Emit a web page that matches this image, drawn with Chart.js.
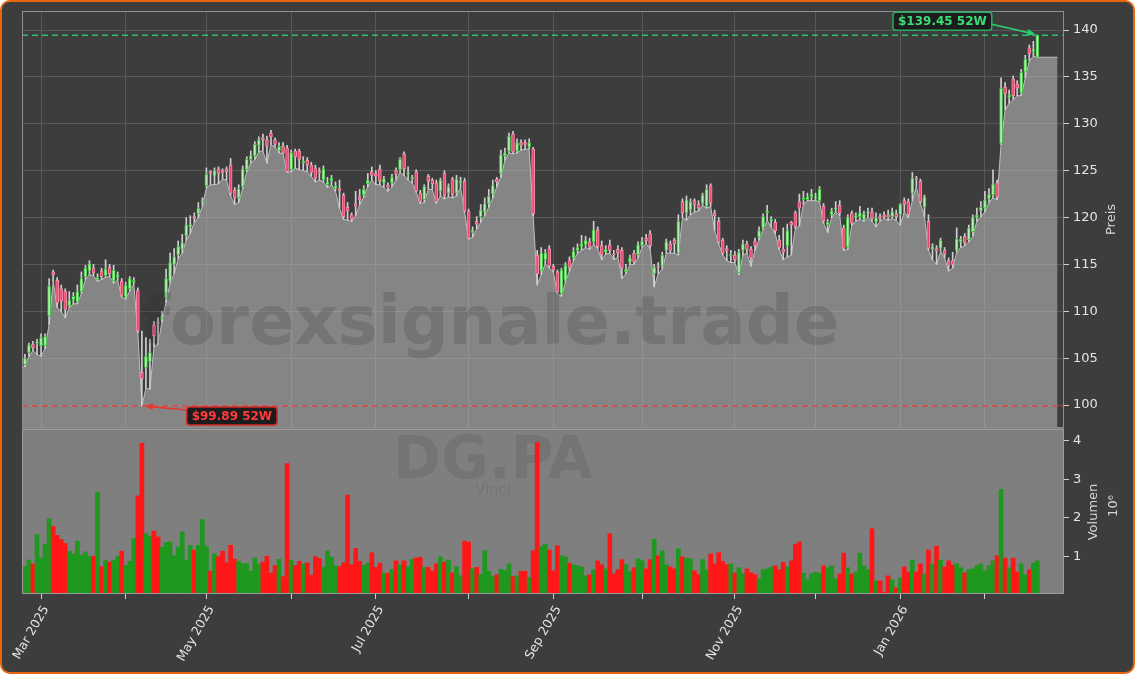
<!DOCTYPE html>
<html>
<head>
<meta charset="utf-8">
<script src="https://cdn.jsdelivr.net/npm/chart.js@4.4.1/dist/chart.umd.min.js"></script>
<style>
  html, body { margin: 0; padding: 0; background: #ffffff; }
  #wrap { width: 1135px; height: 674px; }
</style>
</head>
<body>
<div id="wrap"><canvas id="chart" width="1135" height="674"></canvas></div>
<script>
// Handelstage: ab erstem Tag, ohne Wochenenden und Börsenfeiertage
var firstDay = '2025-02-25';
var holidays = ['2025-04-18', '2025-04-21', '2025-05-01', '2025-12-25', '2025-12-26', '2026-01-01'];
var monthNames = ['Jan', 'Feb', 'Mar', 'Apr', 'May', 'Jun', 'Jul', 'Aug', 'Sep', 'Oct', 'Nov', 'Dec'];
var priceTicks = [100, 105, 110, 115, 120, 125, 130, 135, 140];
var volumeTicks = [1, 2, 3, 4];

var opens = [
  104.3,105.6,106.5,106.6,106.3,106.3,109.5,114.2,113.3,112.4,
  112.1,110.6,111.2,111.0,112.1,113.7,114.3,114.6,113.4,114.3,
  113.8,114.7,113.2,113.6,113.2,111.5,112.4,113.1,112.2,103.5,
  104.0,104.6,108.5,108.8,109.2,111.4,113.2,115.0,116.0,116.6,
  118.0,119.0,120.1,120.4,121.6,123.4,124.9,124.4,125.2,125.0,
  125.2,125.6,122.9,122.1,123.3,125.1,126.2,126.6,127.7,128.5,
  128.3,129.0,128.3,127.1,127.6,127.4,125.1,127.1,127.1,125.8,
  126.1,125.6,125.3,124.9,124.0,123.5,123.9,123.1,123.1,122.4,
  121.1,120.3,121.5,122.2,122.4,123.6,124.9,124.7,125.2,123.7,
  123.5,123.7,125.0,125.1,126.8,124.6,124.1,124.9,122.6,121.9,
  124.4,124.0,123.7,122.8,124.75,122.6,124.1,122.6,123.7,123.9,
  120.7,118.4,119.6,120.1,120.6,121.5,122.5,124.1,124.7,126.6,
  127.1,128.9,127.1,128.0,128.0,127.5,127.3,116.0,114.3,115.5,
  116.7,114.8,114.2,111.9,113.3,115.5,115.7,116.5,116.9,117.1,
  117.4,117.4,118.7,117.0,116.3,117.1,116.1,116.6,116.5,114.2,
  115.2,116.2,116.0,117.0,117.8,118.3,114.05,114.8,114.8,116.5,
  117.2,117.6,116.2,121.7,120.5,120.8,121.8,121.4,121.5,121.2,
  123.4,120.5,119.6,117.6,116.7,115.9,116.0,114.1,116.5,117.2,
  116.6,117.5,117.9,118.9,120.5,119.6,119.5,117.6,116.6,117.0,
  119.5,120.5,121.7,121.9,121.9,122.2,122.1,121.8,121.2,119.2,
  120.3,120.9,121.3,118.9,116.9,120.5,120.0,120.1,119.8,120.5,
  120.6,119.5,120.1,120.3,120.3,120.1,120.4,120.3,121.8,121.7,
  122.6,124.2,123.9,121.1,119.6,116.6,116.7,116.7,116.5,115.4,
  115.4,116.5,117.4,118.0,117.6,118.5,120.0,120.7,121.0,122.0,
  122.4,123.7,127.9,133.9,132.8,134.8,134.2,133.3,135.5,138.1,
  137.7,137.1
];
var highs = [
  105.4,106.6,106.8,107.0,107.6,107.6,113.5,114.4,113.6,112.8,
  112.4,112.1,112.0,112.8,114.2,114.9,115.4,115.0,114.0,114.6,
  115.5,115.0,114.9,114.2,113.5,113.1,113.7,113.6,112.5,107.9,
  107.2,107.0,108.9,109.3,110.0,114.5,116.2,116.7,117.5,118.2,
  120.0,120.2,120.5,121.6,122.1,125.3,125.0,125.3,125.4,125.2,
  125.4,126.3,123.2,123.5,125.5,126.5,127.1,128.1,128.6,128.9,
  128.7,129.3,128.5,128.0,128.0,127.7,127.2,127.3,127.3,126.5,
  126.4,125.9,125.6,125.3,125.5,124.3,124.5,123.8,124.0,122.6,
  121.6,120.5,122.8,123.0,123.4,124.7,125.4,125.0,125.6,124.4,
  123.7,124.6,125.3,126.4,127.0,125.4,124.5,125.1,122.9,123.5,
  124.6,124.2,124.0,124.2,125.0,123.6,124.3,124.5,124.3,124.2,
  120.9,119.0,120.1,121.4,122.1,123.0,124.0,124.3,127.2,127.4,
  129.0,129.2,128.4,128.3,128.3,128.4,127.5,116.5,116.8,116.6,
  117.0,115.0,114.4,114.6,115.2,115.8,116.8,117.2,118.1,118.0,
  117.8,119.6,119.0,117.5,117.0,117.6,116.5,117.0,116.8,115.0,
  116.0,116.5,117.4,117.9,118.2,118.6,115.0,115.2,116.3,117.7,
  117.5,117.8,120.3,122.0,122.3,122.0,122.0,121.8,122.6,123.5,
  123.6,120.8,120.0,117.8,117.0,116.5,116.4,116.6,117.6,117.5,
  116.9,117.8,119.0,120.4,121.3,120.1,119.8,118.1,118.9,119.3,
  119.6,120.7,122.5,122.8,122.6,123.0,122.6,123.3,121.5,119.8,
  121.0,121.7,121.8,119.2,120.3,120.7,120.5,121.2,120.7,121.0,
  121.0,120.5,120.4,120.6,120.8,121.0,120.8,121.5,122.1,122.0,
  124.8,124.4,124.1,122.4,120.3,117.2,117.0,117.8,116.8,115.7,
  116.3,118.9,118.0,118.3,119.2,120.3,121.0,121.7,122.8,123.1,
  125.1,124.0,134.9,134.4,133.6,135.1,134.6,135.8,137.3,138.4,
  138.8,139.45
];
var lows = [
  104.1,105.2,105.8,105.4,105.2,106.0,108.6,113.2,110.4,110.0,
  109.3,110.4,110.8,110.8,111.9,113.4,113.9,113.8,113.2,113.4,
  113.6,113.7,113.0,113.3,111.5,111.3,112.2,112.9,107.7,99.89,
  101.8,101.7,106.2,106.5,108.9,111.0,113.0,114.0,115.6,116.2,
  117.6,118.3,119.5,120.0,121.2,123.2,123.5,123.5,123.6,124.1,
  124.0,122.3,121.4,121.6,123.1,124.9,125.8,126.2,127.0,127.1,
  125.8,127.8,127.5,126.9,126.8,124.8,124.9,125.3,125.1,125.0,
  124.9,124.4,123.8,124.0,123.8,123.2,123.5,122.8,121.0,119.8,
  119.7,119.6,120.2,121.4,122.2,123.3,124.0,123.5,123.5,123.2,
  122.8,123.3,124.0,124.8,124.5,124.0,123.7,122.7,121.5,121.6,
  123.0,123.0,121.5,122.3,122.0,122.2,122.1,122.3,123.2,120.6,
  117.7,117.9,118.8,119.5,120.2,121.1,122.1,123.3,124.3,126.1,
  126.9,126.8,126.9,127.2,127.3,127.3,120.2,112.8,113.9,115.1,
  114.6,114.2,111.9,111.6,113.1,114.3,115.4,116.2,116.5,116.8,
  116.6,117.1,116.7,115.5,116.1,116.2,115.5,115.8,113.5,114.0,
  115.0,115.0,115.7,116.8,117.2,116.7,112.6,114.0,114.5,116.2,
  116.2,116.2,116.0,120.0,119.7,120.3,120.6,120.7,121.3,121.0,
  121.2,118.6,117.2,116.0,115.4,115.2,115.2,113.9,116.0,116.2,
  114.8,116.5,117.6,118.7,119.7,119.0,118.3,116.6,115.5,115.8,
  116.0,118.8,119.1,121.4,121.8,121.8,121.8,121.7,119.4,118.4,
  120.0,120.6,120.2,116.5,116.6,119.2,119.6,119.8,119.6,120.0,
  119.6,119.0,119.6,119.9,119.7,119.9,119.7,119.2,120.6,120.0,
  121.8,123.3,121.5,120.1,116.5,115.5,115.0,116.4,115.7,114.3,
  114.6,116.3,116.8,117.0,117.4,118.0,119.6,120.1,120.6,121.6,
  122.1,121.9,127.8,131.5,132.2,132.6,133.0,133.0,134.9,136.7,
  137.2,137.1
];
var closes = [
  105.0,106.4,106.1,106.7,107.2,107.3,112.7,113.9,110.9,111.1,
  110.2,111.2,111.6,112.1,113.5,114.6,115.1,114.1,113.6,113.7,
  114.5,114.0,114.4,113.9,111.7,112.8,113.5,113.3,107.9,102.8,
  105.2,105.6,107.4,108.7,109.4,113.5,115.2,115.8,116.9,117.3,
  119.2,119.3,119.9,121.0,121.8,124.6,124.7,125.0,124.7,124.8,
  124.9,122.6,122.1,123.1,125.2,126.2,126.6,127.8,128.3,128.3,
  127.6,128.6,127.8,127.6,126.9,124.9,126.9,126.5,126.2,126.0,
  125.6,124.8,124.2,124.75,125.2,123.8,124.2,123.4,122.9,120.1,
  120.7,119.8,121.2,121.9,123.0,124.0,124.5,124.4,123.9,124.1,
  123.2,124.3,124.6,126.2,125.2,124.8,124.3,122.8,121.7,123.3,
  123.9,123.6,121.7,124.0,122.3,123.3,122.4,124.1,123.9,120.7,
  117.8,118.7,119.3,120.8,121.5,122.3,123.4,123.8,126.7,126.9,
  128.7,127.0,128.0,127.7,127.8,128.0,120.4,114.0,116.2,116.2,
  114.8,114.4,112.1,114.4,114.9,114.6,116.4,116.8,117.2,117.6,
  116.9,118.7,116.9,116.0,116.6,116.5,116.0,116.2,114.6,114.5,
  115.7,115.3,117.1,117.5,117.5,117.0,114.7,114.7,116.0,117.4,
  116.5,117.2,119.6,120.5,121.9,121.7,121.4,121.0,122.4,123.0,
  121.5,120.2,117.4,116.2,116.4,116.1,115.5,116.3,117.2,116.6,
  115.7,117.0,118.6,120.1,120.7,119.8,118.6,116.8,116.3,118.6,
  119.2,119.0,121.0,122.1,122.2,122.5,122.2,123.0,119.6,119.5,
  120.7,121.0,120.5,116.7,120.0,119.4,120.2,120.5,120.4,120.6,
  119.9,120.0,119.9,120.1,120.0,120.6,120.1,121.4,121.4,120.3,
  124.2,124.1,121.7,122.2,116.7,116.9,116.4,117.6,116.1,114.9,
  115.0,117.7,117.7,117.3,118.9,120.0,120.3,121.1,121.9,122.5,
  123.6,122.2,133.8,133.2,133.1,133.0,133.8,135.5,136.9,137.5,
  137.9,139.45
];
// Volumen in Millionen Stück
var volumes = [
  0.74,0.91,0.81,1.57,0.96,1.32,1.98,1.78,1.55,1.44,
  1.34,1.14,1.06,1.40,1.04,1.12,1.00,1.01,2.67,0.74,
  0.90,0.86,0.90,1.01,1.14,0.77,0.88,1.47,2.57,3.93,
  1.59,1.53,1.66,1.51,1.24,1.36,1.38,1.02,1.25,1.64,
  0.90,1.29,1.17,1.29,1.96,1.26,0.62,1.07,1.00,1.14,
  0.84,1.29,0.93,0.88,0.81,0.82,0.62,0.96,0.81,0.86,
  1.01,0.57,0.77,0.93,0.48,3.41,0.90,0.77,0.88,0.81,
  0.84,0.52,1.00,0.95,0.73,1.15,0.99,0.76,0.74,0.84,
  2.59,0.79,1.21,0.88,0.77,0.83,1.10,0.72,0.83,0.57,
  0.57,0.67,0.89,0.79,0.89,0.74,0.93,0.96,0.98,0.72,
  0.72,0.62,0.81,0.99,0.86,0.91,0.58,0.74,0.50,1.40,
  1.37,0.69,0.72,0.53,1.15,0.62,0.48,0.53,0.67,0.64,
  0.81,0.48,0.50,0.62,0.62,0.46,1.15,3.95,1.26,1.32,
  1.17,0.63,1.28,1.02,0.99,0.83,0.79,0.76,0.73,0.50,
  0.53,0.66,0.89,0.79,0.68,1.59,0.55,0.66,0.92,0.79,
  0.61,0.71,0.94,0.89,0.68,0.92,1.45,1.02,1.15,0.79,
  0.73,0.68,1.20,0.99,0.96,0.94,0.63,0.53,0.92,0.66,
  1.07,0.81,1.10,0.87,0.79,0.81,0.58,0.71,0.55,0.68,
  0.58,0.53,0.42,0.66,0.68,0.73,0.76,0.66,0.85,0.73,
  0.89,1.32,1.38,0.57,0.40,0.55,0.59,0.57,0.76,0.71,
  0.76,0.42,0.55,1.09,0.71,0.55,0.60,1.09,0.76,0.66,
  1.72,0.37,0.37,0.08,0.50,0.40,0.19,0.45,0.73,0.60,
  0.91,0.60,0.81,0.55,1.17,0.81,1.27,0.91,0.73,0.89,
  0.78,0.81,0.71,0.58,0.66,0.68,0.76,0.81,0.63,0.76,
  0.89,1.02,2.74,0.96,0.71,0.96,0.60,0.81,0.53,0.66,
  0.83,0.89
];

var xMin = -0.72, xMax = 257.6;
var tailDays = 5;
var labelAngle = Math.PI / 3;

// Handelstage und Monatsanfänge bestimmen
var tradingDays = [];
for (var d = new Date(firstDay + 'T12:00:00Z'); tradingDays.length < closes.length; d.setUTCDate(d.getUTCDate() + 1)) {
  var wd = d.getUTCDay();
  if (wd !== 0 && wd !== 6 && holidays.indexOf(d.toISOString().slice(0, 10)) < 0) tradingDays.push(new Date(d));
}
var monthStarts = [];
tradingDays.forEach(function(day, i) {
  if (i > 0 && day.getUTCMonth() !== tradingDays[i - 1].getUTCMonth()) {
    monthStarts.push({ idx: i, label: monthNames[day.getUTCMonth()] + ' ' + day.getUTCFullYear(), show: monthStarts.length % 2 === 0 });
  }
});

var up = opens.map(function(o, i) { return closes[i] >= o; });
var lowIdx = lows.indexOf(Math.min.apply(null, lows));
var highIdx = highs.indexOf(Math.max.apply(null, highs));

var areaPoints = [{ x: xMin, y: lows[0] }].concat(lows.map(function(v, i) { return { x: i, y: v }; }));
areaPoints.push({ x: lows.length - 1 + tailDays, y: lows[lows.length - 1] });

function tag(c, text, cx, cy, fg, border) {
  c.font = 'bold 12px "DejaVu Sans"';
  var w = c.measureText(text).width + 10, h = 18;
  c.beginPath();
  c.roundRect(cx - w / 2, cy - h / 2, w, h, 3);
  c.fillStyle = '#1c1c1c'; c.fill();
  c.lineWidth = 1.5; c.strokeStyle = border; c.stroke();
  c.fillStyle = fg; c.textAlign = 'center'; c.textBaseline = 'middle';
  c.fillText(text, cx, cy + 0.5);
  return { left: cx - w / 2, right: cx + w / 2, top: cy - h / 2, bottom: cy + h / 2 };
}
function arrow(c, x1, y1, x2, y2, color) {
  var ang = Math.atan2(y2 - y1, x2 - x1);
  c.strokeStyle = color; c.fillStyle = color; c.lineWidth = 1.6; c.setLineDash([]);
  c.beginPath(); c.moveTo(x1, y1); c.lineTo(x2 - 6 * Math.cos(ang), y2 - 6 * Math.sin(ang)); c.stroke();
  c.beginPath();
  c.moveTo(x2, y2);
  c.lineTo(x2 - 8 * Math.cos(ang) + 3.5 * Math.sin(ang), y2 - 8 * Math.sin(ang) - 3.5 * Math.cos(ang));
  c.lineTo(x2 - 8 * Math.cos(ang) - 3.5 * Math.sin(ang), y2 - 8 * Math.sin(ang) + 3.5 * Math.cos(ang));
  c.closePath(); c.fill();
}

var decor = {
  id: 'decor',
  beforeDraw: function(chart) {
    var c = chart.ctx;
    c.save();
    c.fillStyle = '#ffffff'; c.fillRect(0, 0, chart.width, chart.height);
    c.beginPath(); c.roundRect(1, 1, chart.width - 2, chart.height - 2, 9);
    c.fillStyle = '#3d3d3d'; c.fill();
    c.lineWidth = 2; c.strokeStyle = '#e8650e'; c.stroke();
    c.restore();
  },
  beforeDatasetsDraw: function(chart) {
    var c = chart.ctx, a = chart.chartArea, v = chart.scales.v;
    c.save();
    c.fillStyle = '#7f7f7f';
    c.fillRect(a.left, v.top, a.right - a.left, v.bottom - v.top);
    c.fillStyle = 'rgba(40,40,40,0.12)';
    c.textAlign = 'center'; c.textBaseline = 'middle';
    c.font = 'bold 58px "DejaVu Sans"';
    c.fillText('DG.PA', 493, 463);
    c.font = '15px "DejaVu Sans"';
    c.fillText('Vinci', 493, 491);
    c.restore();
  },
  afterDatasetsDraw: function(chart) {
    var c = chart.ctx, a = chart.chartArea, x = chart.scales.x, y = chart.scales.y, v = chart.scales.v;
    c.save();
    c.fillStyle = 'rgba(40,40,40,0.19)';
    c.textAlign = 'center'; c.textBaseline = 'middle';
    c.font = 'bold 67px "DejaVu Sans"';
    c.fillText('forexsignale.trade', 490, 327);

    // 52W Linien
    var yHigh = y.getPixelForValue(highs[highIdx]), yLow = y.getPixelForValue(lows[lowIdx]);
    c.lineWidth = 1.5; c.setLineDash([6, 4]);
    c.strokeStyle = 'rgba(46,204,113,0.9)';
    c.beginPath(); c.moveTo(a.left, yHigh); c.lineTo(a.right, yHigh); c.stroke();
    c.strokeStyle = 'rgba(232,60,60,0.9)';
    c.beginPath(); c.moveTo(a.left, yLow); c.lineTo(a.right, yLow); c.stroke();
    c.setLineDash([]);

    // Rahmen
    c.lineWidth = 1; c.strokeStyle = '#8e8e8e';
    c.strokeRect(a.left + 0.5, y.top + 0.5, a.right - a.left - 1, y.bottom - y.top - 1);
    c.strokeStyle = '#9c9c9c';
    c.strokeRect(a.left + 0.5, v.top + 1.5, a.right - a.left - 1, v.bottom - v.top - 2);

    // Annotationen
    var hx = x.getPixelForValue(highIdx);
    var hb = tag(c, '$' + highs[highIdx].toFixed(2) + ' 52W', hx - 95, yHigh - 14, '#3ddc7a', '#27ae60');
    arrow(c, hb.right, hb.top + 12, hx - 2, yHigh - 1, '#2ecc71');
    var lx = x.getPixelForValue(lowIdx);
    var lb = tag(c, '$' + lows[lowIdx].toFixed(2) + ' 52W', lx + 90, yLow + 10, '#ff3b3b', '#d42a2a');
    arrow(c, lb.left, lb.top + 3, lx + 3, yLow, '#e53935');
    c.restore();
  },
  afterDraw: function(chart) {
    var c = chart.ctx, xs = chart.scales.x, y = chart.scales.y, v = chart.scales.v;
    c.save();
    c.fillStyle = '#d4d4d4'; c.font = '13px "DejaVu Sans"';
    c.textAlign = 'center'; c.textBaseline = 'middle';
    [['Preis', y.right - 23, (y.top + y.bottom) / 2],
     ['Volumen', v.right - 41, (v.top + v.bottom) / 2 + 1],
     ['10\u2076', v.right - 21, (v.top + v.bottom) / 2 - 5]].forEach(function(t) {
      c.save(); c.translate(t[1], t[2]); c.rotate(-Math.PI / 2); c.fillText(t[0], 0, 0); c.restore();
    });
    // Datumsbeschriftung, schräg, rechtsbündig am Tick
    c.fillStyle = '#e4e4e4'; c.font = '12.5px "DejaVu Sans"';
    c.textAlign = 'right'; c.textBaseline = 'middle';
    monthStarts.forEach(function(m) {
      if (!m.show) return;
      var px = xs.getPixelForValue(m.idx);
      c.save(); c.translate(px + 5, xs.top + 13); c.rotate(-labelAngle); c.fillText(m.label, 0, 0); c.restore();
    });
    c.restore();
  }
};

Chart.defaults.font.family = '"DejaVu Sans", sans-serif';
Chart.defaults.color = '#e4e4e4';

var idx = closes.map(function(_, i) { return i; });
var ctx = document.getElementById('chart').getContext('2d');
var myChart = new Chart(ctx, {
  type: 'bar',
  data: {
    datasets: [{
      label: 'Kerzen',
      data: idx.map(function(i) { return { x: i, y: [opens[i], closes[i]] }; }),
      backgroundColor: up.map(function(u) { return u ? '#b9ecb9' : '#ea4a74'; }),
      borderColor: up.map(function(u) { return u ? '#3cc23c' : '#f58ba5'; }),
      borderWidth: 1,
      borderSkipped: false,
      barThickness: 3,
      minBarLength: 1,
      grouped: false,
      order: 1,
      yAxisID: 'y'
    }, {
      label: 'Dochte',
      data: idx.map(function(i) { return { x: i, y: [lows[i], highs[i]] }; }),
      backgroundColor: '#cfcfcf',
      barThickness: 1,
      grouped: false,
      order: 2,
      yAxisID: 'y'
    }, {
      label: 'Volumen',
      data: idx.map(function(i) { return { x: i, y: volumes[i] }; }),
      backgroundColor: up.map(function(u) { return u ? '#1f981f' : '#ff1717'; }),
      barPercentage: 1,
      categoryPercentage: 1,
      grouped: false,
      order: 3,
      yAxisID: 'v'
    }, {
      type: 'line',
      label: 'Tief',
      data: areaPoints,
      borderColor: '#bfbfbf',
      borderWidth: 1,
      backgroundColor: 'rgba(200,200,200,0.52)',
      fill: 'start',
      pointRadius: 0,
      tension: 0,
      order: 4,
      yAxisID: 'y'
    }]
  },
  options: {
    responsive: false,
    animation: false,
    events: [],
    layout: { padding: { left: 22, top: 11, right: 0, bottom: 0 } },
    plugins: { legend: { display: false }, tooltip: { enabled: false } },
    scales: {
      x: {
        type: 'linear', min: xMin, max: xMax, offset: false,
        afterBuildTicks: function(s) { s.ticks = monthStarts.map(function(m) { return { value: m.idx }; }); },
        afterFit: function(s) { s.height = 80; s.paddingLeft = 0; s.paddingRight = 0; },
        ticks: { display: false, autoSkip: false },
        grid: { color: '#585858', tickColor: '#d0d0d0', tickLength: 5, offset: false },
        border: { display: false }
      },
      y: {
        type: 'linear', position: 'right', stack: 'rechts', stackWeight: 417,
        min: 97.55, max: 142.03,
        afterBuildTicks: function(s) { s.ticks = priceTicks.map(function(t) { return { value: t }; }); },
        afterFit: function(s) { s.width = 71; s.paddingTop = 0; s.paddingBottom = 0; },
        ticks: { color: '#e4e4e4', font: { size: 13 }, padding: 4 },
        grid: { color: '#585858', tickColor: '#d0d0d0', tickLength: 5 },
        border: { display: false }
      },
      v: {
        type: 'linear', position: 'right', stack: 'rechts', stackWeight: 166,
        min: 0.03, max: 4.33,
        afterBuildTicks: function(s) { s.ticks = volumeTicks.map(function(t) { return { value: t }; }); },
        afterFit: function(s) { s.width = 71; s.paddingTop = 0; s.paddingBottom = 0; },
        ticks: { color: '#e4e4e4', font: { size: 13 }, padding: 4 },
        grid: { drawOnChartArea: false, tickColor: '#d0d0d0', tickLength: 5 },
        border: { display: false }
      }
    }
  },
  plugins: [decor]
});
</script>
</body>
</html>
